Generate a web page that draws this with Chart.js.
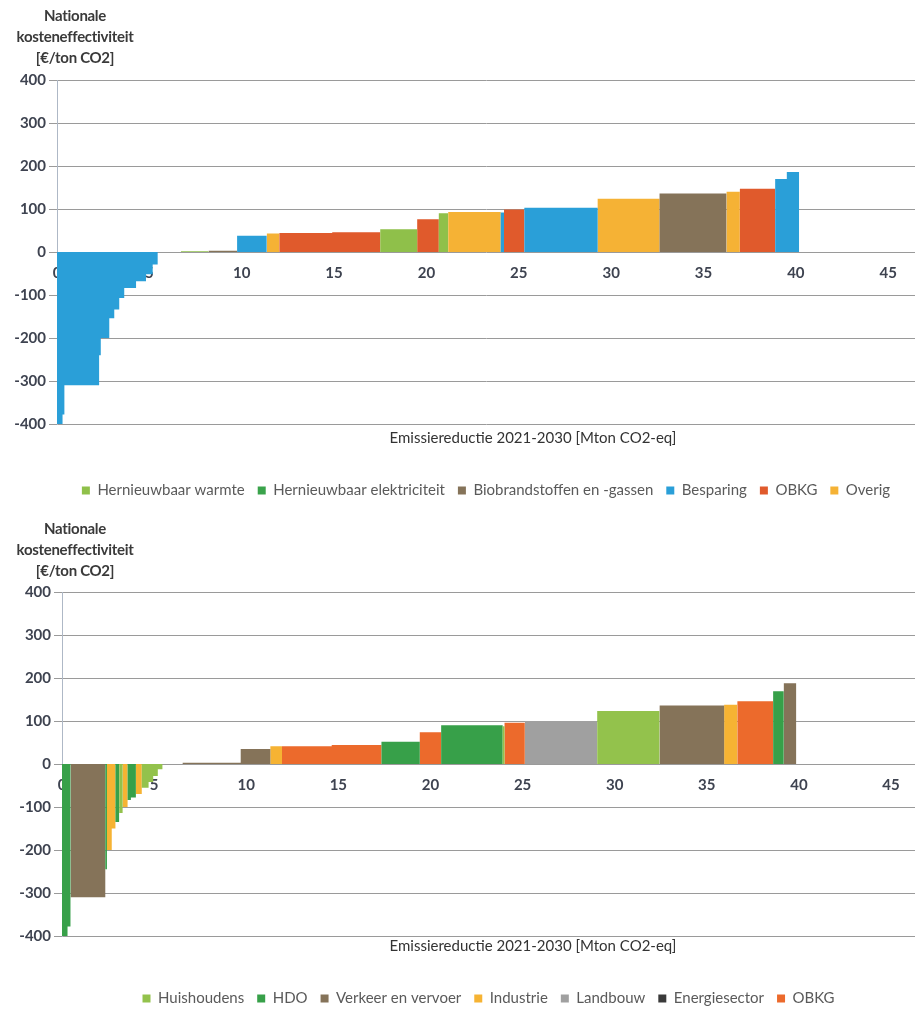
<!DOCTYPE html>
<html>
<head>
<meta charset="utf-8">
<script src="https://cdn.jsdelivr.net/npm/chart.js@4/dist/chart.umd.min.js"></script>
<style>
  body { margin: 0; background: #fff; font-family: Lato, "Open Sans", sans-serif; }
  .wrap { position: relative; width: 915px; height: 508px; }
  .ytitle { position: absolute; left: 0; top: 5px; width: 150px; text-align: center;
            font-weight: bold; font-size: 15px; line-height: 21px; color: #3a3a3a; letter-spacing: -0.3px; }
  .ytitle.low { top: 10px; }
  .xtitle { position: absolute; top: 428px; left: 0; width: 1066px; text-align: center;
            font-size: 15px; color: #333; }
</style>
</head>
<body>
<div class="wrap">
  <canvas id="chartTop"></canvas>
  <div class="ytitle">Nationale<br>kosteneffectiviteit<br>[€/ton CO2]</div>
  <div class="xtitle">Emissiereductie 2021-2030 [Mton CO2-eq]</div>
</div>
<div class="wrap">
  <canvas id="chartBottom"></canvas>
  <div class="ytitle low">Nationale<br>kosteneffectiviteit<br>[€/ton CO2]</div>
  <div class="xtitle">Emissiereductie 2021-2030 [Mton CO2-eq]</div>
</div>
<script>
// ---- top chart: per technology ----
var topCats   = ['Hernieuwbaar warmte', 'Hernieuwbaar elektriciteit', 'Biobrandstoffen en -gassen', 'Besparing', 'OBKG', 'Overig'];
var topColors = ['#8fc04a', '#3aa34b', '#857359', '#2a9fd8', '#e05a2c', '#f5b235'];
// each measure: width (Mton), cost (€/ton), category index
var topWidth = [0.30, 0.10, 1.88, 0.09, 0.46, 0.27, 0.27, 0.27, 0.64, 0.54, 0.36, 0.27,
                1.25, 1.50, 1.55,
                1.60, 0.68, 2.87, 2.60, 2.00, 1.17, 0.51, 2.84, 0.18, 1.10, 3.97, 3.35, 3.63, 0.72, 1.91, 0.63, 0.67];
var topCost  = [-400, -378, -310, -240, -200, -154, -134, -107, -84, -68, -52, -29,
                0, 2, 3,
                38, 43, 44, 46, 53, 76, 90, 93, 92, 99, 103, 124, 136, 140, 147, 170, 186];
var topGroup = [3, 3, 3, 3, 3, 3, 3, 3, 3, 3, 3, 3,
                1, 0, 2,
                3, 5, 4, 4, 0, 4, 0, 5, 3, 4, 3, 5, 2, 5, 4, 3, 3];

// ---- bottom chart: per sector ----
var botCats   = ['Huishoudens', 'HDO', 'Verkeer en vervoer', 'Industrie', 'Landbouw', 'Energiesector', 'OBKG'];
var botColors = ['#93c24c', '#37a049', '#857359', '#f6b333', '#a0a0a0', '#3a3a3a', '#ec6a2c'];
var botWidth = [0.30, 0.16, 1.89, 0.09, 0.26, 0.20, 0.20, 0.19, 0.27, 0.18, 0.27, 0.32, 0.37, 0.25, 0.25, 0.25,
                1.10, 3.15,
                1.61, 0.63, 2.70, 2.70, 2.08, 1.16, 3.34, 0.10, 1.10, 3.93, 3.39, 3.50, 0.72, 1.94, 0.58, 0.68];
var botCost  = [-400, -378, -310, -245, -200, -150, -135, -114, -100, -84, -78, -70, -55, -42, -28, -12,
                0, 3,
                35, 41, 41, 44, 52, 74, 90, 88, 96, 100, 123, 136, 138, 146, 169, 188];
var botGroup = [1, 1, 2, 1, 3, 3, 1, 0, 3, 1, 1, 3, 0, 0, 0, 0,
                5, 2,
                2, 3, 6, 6, 1, 6, 1, 0, 6, 4, 0, 2, 3, 6, 1, 2];

var yTicks = [-400, -300, -200, -100, 0, 100, 200, 300, 400];
var xTicks = [0, 5, 10, 15, 20, 25, 30, 35, 40, 45];

// one stepped-line dataset per category, filled to zero -> variable width bars
function buildSets(cats, colors, widths, costs, groups) {
    var sets = cats.map(function (c, i) {
        return {
            label: c, data: [], stepped: 'before', fill: 'origin',
            backgroundColor: colors[i], borderColor: colors[i], borderWidth: 0,
            pointRadius: 0, pointHoverRadius: 0
        };
    });
    var x = 0;
    for (var k = 0; k < widths.length; k++) {
        var g = groups[k];
        sets[g].data.push({x: x, y: costs[k]});
        var x1 = x + widths[k];
        if (groups[k + 1] !== g) sets[g].data.push({x: x1, y: 0});
        x = x1;
    }
    return sets;
}

var tickFont = {family: 'Lato', size: 15, weight: 'bold'};

function makeChart(id, sets, axisWidth, xMax, restHeight, padTop) {
    return new Chart(document.getElementById(id), {
        type: 'line',
        data: {datasets: sets},
        options: {
            responsive: true,
            maintainAspectRatio: false,
            animation: false,
            events: [],
            layout: {padding: {top: padTop, left: 0, right: 0, bottom: 0}},
            scales: {
                x: {
                    type: 'linear', min: 0, max: xMax,
                    position: {y: 0},
                    grid: {display: false, drawTicks: false},
                    border: {display: false},
                    afterBuildTicks: function (s) { s.ticks = xTicks.map(function (v) { return {value: v}; }); },
                    ticks: {font: tickFont, color: '#3e4350', padding: 12, maxRotation: 0, autoSkip: false}
                },
                xt: {
                    type: 'linear', min: 0, max: 1, position: 'bottom',
                    grid: {display: false, drawTicks: false},
                    border: {display: false},
                    ticks: {display: false},
                    afterFit: function (s) { s.height = restHeight; }
                },
                y: {
                    min: -400, max: 400,
                    afterFit: function (s) { s.width = axisWidth; },
                    afterBuildTicks: function (s) { s.ticks = yTicks.map(function (v) { return {value: v}; }); },
                    grid: {color: '#9a9a9a', lineWidth: 1, tickLength: 8},
                    border: {display: true, color: '#aeb8c6'},
                    ticks: {font: tickFont, color: '#3e4350', padding: 3}
                }
            },
            plugins: {
                tooltip: {enabled: false},
                legend: {
                    position: 'bottom',
                    fullSize: false,
                    labels: {
                        boxWidth: 8, boxHeight: 8, padding: 13,
                        color: '#5a5a5a',
                        font: {family: 'Lato', size: 15}
                    }
                }
            }
        }
    });
}

makeChart('chartTop', buildSets(topCats, topColors, topWidth, topCost, topGroup), 57, 46.45, 46, 80);
makeChart('chartBottom', buildSets(botCats, botColors, botWidth, botCost, botGroup), 62, 46.3, 42, 84);
</script>
</body>
</html>
